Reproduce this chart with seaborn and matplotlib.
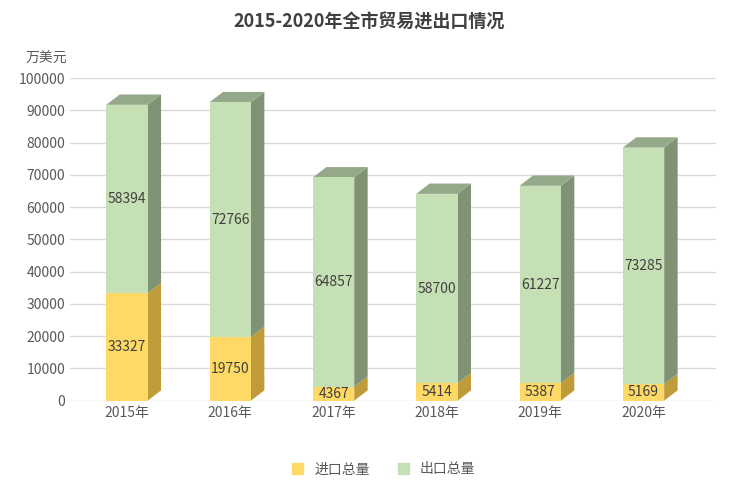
import matplotlib
matplotlib.use("Agg")
import matplotlib.pyplot as plt
import seaborn as sns
import pandas as pd
from matplotlib.patches import Polygon, Patch

years = ["2015年", "2016年", "2017年", "2018年", "2019年", "2020年"]
imports = [33327, 19750, 4367, 5414, 5387, 5169]
exports = [58394, 72766, 64857, 58700, 61227, 73285]

sns.set_theme(style="white")
plt.rcParams['font.family'] = ['Noto Sans CJK SC', 'DejaVu Sans']

totals = [a + b for a, b in zip(imports, exports)]
df = pd.DataFrame({"year": years, "imp": imports, "exp": exports, "tot": totals})

fig = plt.figure(figsize=(7.38, 5.04), dpi=100)
ax = fig.add_axes([0.095, 0.205, 0.875, 0.64])
W = 0.4
sns.barplot(data=df, x="year", y="tot", color="#C5E0B4", width=W, saturation=1, ax=ax, zorder=3,
            edgecolor="none", linewidth=0)
sns.barplot(data=df, x="year", y="imp", color="#FFD966", width=W, saturation=1, ax=ax, zorder=3,
            edgecolor="none", linewidth=0)

dx, dy = 0.13, 3200
for i, (im, tot) in enumerate(zip(imports, totals)):
    xr = i + W / 2
    xl = i - W / 2
    ax.add_patch(Polygon([(xr, 0), (xr + dx, dy), (xr + dx, im + dy), (xr, im)],
                         facecolor="#BF9B3A", edgecolor="none", zorder=2))
    ax.add_patch(Polygon([(xr, im), (xr + dx, im + dy), (xr + dx, tot + dy), (xr, tot)],
                         facecolor="#7F9274", edgecolor="none", zorder=2))
    ax.add_patch(Polygon([(xl, tot), (xr, tot), (xr + dx, tot + dy), (xl + dx, tot + dy)],
                         facecolor="#94A88A", edgecolor="none", zorder=2))
    ax.text(i, im / 2, str(im), ha="center", va="center", fontsize=10, color="#404040", zorder=5)
    ax.text(i, im + exports[i] / 2, str(exports[i]), ha="center", va="center", fontsize=10,
            color="#404040", zorder=5)

ax.set_ylim(0, 100000)
ax.set_xlim(-0.55, 5.7)
ax.set_yticks(range(0, 100001, 10000))
ax.yaxis.grid(True, color="#D9D9D9", linewidth=1, zorder=0)
ax.set_axisbelow(True)
for s in ax.spines.values():
    s.set_visible(False)
ax.tick_params(axis="both", length=0, labelsize=10, colors="#595959")
ax.set_xlabel("")
ax.set_ylabel("")
fig.text(0.035, 0.875, "万美元", fontsize=10, color="#595959")
fig.suptitle("2015-2020年全市贸易进出口情况", y=0.975, fontsize=13, fontweight="bold", color="#404040")
fig.legend(handles=[Patch(color="#FFD966", label="进口总量"), Patch(color="#C5E0B4", label="出口总量")],
           loc="lower center", bbox_to_anchor=(0.52, 0.03), ncol=2, frameon=False, fontsize=10,
           handlelength=0.8, handleheight=0.8, labelcolor="#595959")
fig.savefig("out.png", dpi=100)
